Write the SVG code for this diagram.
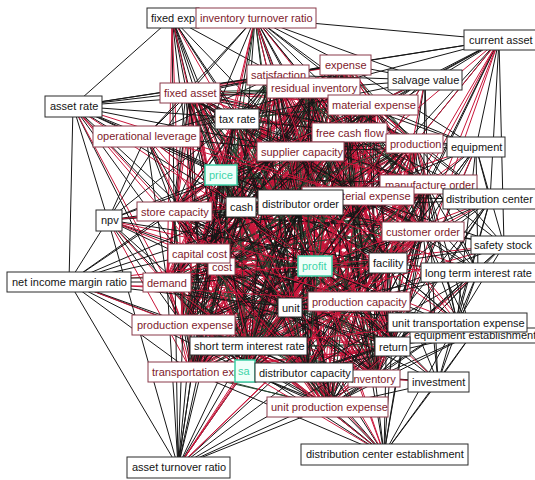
<svg xmlns="http://www.w3.org/2000/svg" xmlns:xlink="http://www.w3.org/1999/xlink" width="535" height="480" viewBox="0 0 535 480">
<style>
  .bg{fill:#fff}
  .e{fill:none;stroke-width:1;stroke-linejoin:round}
  .k{stroke:#161616}
  .r{stroke:#c8163a}
  .g{stroke:#27442f}
  .nd text{font-family:"Liberation Sans",Arial,Helvetica,sans-serif;font-size:11px}
  .b rect{fill:#fff;stroke:#2b2b2b;stroke-width:1}
  .b text{fill:#141414}
  .m rect{fill:#fff;stroke:#8a3a4a;stroke-width:1}
  .m text{fill:#7e1a2c}
  .t rect{fill:#effff9;stroke:#3ccfa5;stroke-width:1.5}
  .t text{fill:#3dd4a8}
</style>
<rect class="bg" x="0" y="0" width="535" height="480"/>

<!-- connectors: core mesh drawn as stride cycles over the 31 central concepts, then the outer fans -->
<g id="connectors">
  <g id="mesh-red">
  <path class="e r" d="M221 175L315 266L245 371L241 208L300 207L357 196L428 187L423 231L388 263L359 301L290 307L199 253L221 266L174 211L167 282L183 325L248 346L192 372L304 372L375 378L392 346L327 407L300 151L349 132L415 143L373 105L313 89L277 75L345 64L237 118L190 92Z"/>
  <path class="e r" d="M221 175L241 208L428 187L359 301L221 266L183 325L304 372L327 407L415 143L277 75L190 92L245 371L357 196L388 263L199 253L167 282L192 372L392 346L349 132L313 89L237 118L315 266L300 207L423 231L290 307L174 211L248 346L375 378L300 151L373 105L345 64Z"/>
  <path class="e r" d="M221 175L357 196L290 307L183 325L392 346L373 105L190 92L300 207L359 301L167 282L375 378L415 143L237 118L241 208L388 263L174 211L304 372L349 132L345 64L245 371L423 231L221 266L192 372L300 151L277 75L315 266L428 187L199 253L248 346L327 407L313 89Z"/>
  <path class="e r" d="M221 175L423 231L167 282L327 407L345 64L300 207L199 253L304 372L373 105L315 266L388 263L183 325L300 151L237 118L357 196L221 266L375 378L313 89L245 371L359 301L248 346L349 132L190 92L428 187L174 211L392 346L277 75L241 208L290 307L192 372L415 143Z"/>
  <path class="e r" d="M221 175L359 301L304 372L277 75L357 196L167 282L349 132L315 266L290 307L375 378L345 64L428 187L183 325L415 143L245 371L199 253L392 346L237 118L423 231L248 346L373 105L241 208L221 266L327 407L190 92L388 263L192 372L313 89L300 207L174 211L300 151Z"/>
  <path class="e r" d="M221 175L199 253L300 151L245 371L174 211L415 143L300 207L183 325L313 89L428 187L192 372L345 64L388 263L375 378L190 92L290 307L327 407L315 266L221 266L349 132L241 208L167 282L373 105L357 196L248 346L277 75L423 231L304 372L237 118L359 301L392 346Z"/>
  <path class="e r" d="M221 175L174 211L313 89L388 263L327 407L241 208L248 346L237 118L199 253L415 143L428 187L375 378L315 266L167 282L277 75L359 301L300 151L300 207L192 372L190 92L221 266L373 105L423 231L392 346L245 371L183 325L345 64L290 307L349 132L357 196L304 372Z"/>
  <path class="e r" d="M221 175L183 325L190 92L167 282L237 118L174 211L345 64L221 266L277 75L199 253L313 89L290 307L373 105L359 301L415 143L388 263L349 132L423 231L300 151L428 187L327 407L357 196L392 346L300 207L375 378L241 208L304 372L245 371L192 372L315 266L248 346Z"/>
  </g>
  <g id="mesh-dark">
  <path class="e k" d="M221 175L245 371L300 207L428 187L388 263L290 307L221 266L167 282L248 346L304 372L392 346L300 151L415 143L313 89L345 64L190 92L315 266L241 208L357 196L423 231L359 301L199 253L174 211L183 325L192 372L375 378L327 407L349 132L373 105L277 75L237 118Z"/>
  <path class="e g" d="M221 175L300 207L388 263L221 266L248 346L392 346L415 143L345 64L315 266L357 196L359 301L174 211L192 372L327 407L373 105L237 118L245 371L428 187L290 307L167 282L304 372L300 151L313 89L190 92L241 208L423 231L199 253L183 325L375 378L349 132L277 75Z"/>
  <path class="e k" d="M221 175L428 187L221 266L304 372L415 143L190 92L357 196L199 253L192 372L349 132L237 118L300 207L290 307L248 346L300 151L345 64L241 208L359 301L183 325L327 407L277 75L245 371L388 263L167 282L392 346L313 89L315 266L423 231L174 211L375 378L373 105Z"/>
  <path class="e k" d="M221 175L388 263L248 346L415 143L315 266L359 301L192 372L373 105L245 371L290 307L304 372L313 89L241 208L199 253L375 378L277 75L300 207L221 266L392 346L345 64L357 196L174 211L327 407L237 118L428 187L167 282L300 151L190 92L423 231L183 325L349 132Z"/>
  <path class="e g" d="M221 175L290 307L392 346L190 92L359 301L375 378L237 118L388 263L304 372L345 64L423 231L192 372L277 75L428 187L248 346L313 89L357 196L183 325L373 105L300 207L167 282L415 143L241 208L174 211L349 132L245 371L221 266L300 151L315 266L199 253L327 407Z"/>
  <path class="e k" d="M221 175L221 266L415 143L357 196L192 372L237 118L290 307L300 151L241 208L183 325L277 75L388 263L392 346L315 266L174 211L373 105L428 187L304 372L190 92L199 253L349 132L300 207L248 346L345 64L359 301L327 407L245 371L167 282L313 89L423 231L375 378Z"/>
  <path class="e k" d="M221 175L167 282L345 64L199 253L373 105L388 263L300 151L357 196L375 378L245 371L248 346L190 92L174 211L277 75L290 307L415 143L423 231L327 407L300 207L304 372L315 266L183 325L237 118L221 266L313 89L359 301L349 132L428 187L392 346L241 208L192 372Z"/>
  </g>
  <!-- second pass of the mesh, turned slightly about the middle so the strands fan out inside each box -->
  <use href="#mesh-red" xlink:href="#mesh-red" transform="rotate(1.6 305 245)"/>
  <use href="#mesh-dark" xlink:href="#mesh-dark" transform="rotate(-1.6 305 245)"/>

  <!-- fixed exp -->
  <path class="e k" d="M172 18L221 175M172 18L241 208M172 18L190 92M172 18L237 118M172 18L174 211M172 18L199 253M172 18L300 151M172 18L300 207M172 18L221 266M172 18L290 307M172 18L73 106M172 18L277 75"/>
  <path class="e r" d="M172 18L315 266M172 18L248 346M172 18L167 282M172 18L183 325"/>
  <!-- inventory turnover ratio -->
  <path class="e k" d="M255 18L277 75M255 18L345 64M255 18L313 89M255 18L373 105M255 18L349 132M255 18L300 151M255 18L237 118M255 18L190 92M255 18L300 207M255 18L357 196M255 18L415 143M255 18L425 80M255 18L499 40M255 18L241 208M255 18L388 263M255 18L428 187M255 18L146 136M255 18L174 211M255 18L290 307"/>
  <path class="e r" d="M255 18L221 175M255 18L315 266M255 18L359 301M255 18L199 253M255 18L423 231"/>
  <path class="e g" d="M255 18L221 266M255 18L304 372"/>
  <!-- current asset -->
  <path class="e k" d="M499 40L345 64M499 40L277 75M499 40L313 89M499 40L373 105M499 40L425 80M499 40L415 143M499 40L476 147M499 40L349 132M499 40L428 187M499 40L357 196M499 40L388 263M499 40L490 200M499 40L300 151M499 40L504 245"/>
  <path class="e r" d="M499 40L423 231M499 40L300 207M499 40L315 266M499 40L359 301M499 40L392 346M499 40L304 372"/>
  <!-- asset rate -->
  <path class="e k" d="M73 106L190 92M73 106L237 118M73 106L277 75M73 106L313 89M73 106L300 151M73 106L146 136M73 106L221 175M73 106L241 208M73 106L174 211M73 106L108 220M73 106L69 282M73 106L345 64M73 106L300 207M73 106L290 307M73 106L248 346M73 106L183 325"/>
  <path class="e r" d="M73 106L199 253M73 106L167 282M73 106L315 266M73 106L221 266M73 106L357 196"/>
  <!-- npv -->
  <path class="e k" d="M108 220L174 211M108 220L221 175M108 220L241 208M108 220L300 207M108 220L199 253M108 220L167 282M108 220L300 151M108 220L237 118M108 220L190 92M108 220L146 136M108 220L290 307M108 220L248 346M108 220L183 325M108 220L388 263M108 220L69 282"/>
  <path class="e r" d="M108 220L221 266M108 220L315 266M108 220L192 372M108 220L357 196M108 220L359 301M108 220L245 371"/>
  <!-- net income margin ratio -->
  <path class="e k" d="M69 282L167 282M69 282L199 253M69 282L174 211M69 282L221 175M69 282L241 208M69 282L290 307M69 282L183 325M69 282L248 346M69 282L192 372M69 282L178 467M69 282L300 207M69 282L245 371"/>
  <path class="e r" d="M69 282L221 266M69 282L315 266M69 282L359 301M69 282L304 372M69 286L167 286"/>
  <path class="e g" d="M69 278L167 278"/>
  <!-- asset turnover ratio -->
  <path class="e k" d="M178 467L183 325M178 467L248 346M178 467L192 372M178 467L167 282M178 467L221 266M178 467L290 307M178 467L199 253M178 467L241 208M178 467L221 175M178 467L359 301M178 467L375 378M178 467L327 407M178 467L304 372M178 467L392 346M178 467L174 211M178 467L300 207M178 467L108 220"/>
  <path class="e r" d="M178 467L245 371M178 467L315 266M178 467L388 263M178 467L357 196M178 467L423 231"/>
  <!-- distribution center establishment -->
  <path class="e k" d="M384 454L327 407M384 454L375 378M384 454L304 372M384 454L392 346M384 454L438 382M384 454L359 301M384 454L388 263M384 454L290 307M384 454L248 346M384 454L192 372M384 454L183 325M384 454L423 231M384 454L457 322M384 454L472 334M384 454L428 187M384 454L221 266"/>
  <path class="e r" d="M384 454L245 371M384 454L315 266M384 454L300 207M384 454L167 282M384 454L241 208M384 454L199 253"/>
  <!-- equipment -->
  <path class="e k" d="M476 147L415 143M476 147L373 105M476 147L349 132M476 147L428 187M476 147L423 231M476 147L357 196M476 147L388 263M476 147L490 200M476 147L504 245M476 147L359 301M476 147L392 346M476 147L457 322M476 147L345 64M476 147L313 89M476 147L300 151M476 147L478 272"/>
  <path class="e r" d="M476 147L300 207M476 147L315 266M476 147L375 378"/>
  <!-- distribution center -->
  <path class="e k" d="M490 200L428 187M490 200L423 231M490 200L357 196M490 200L388 263M490 200L415 143M490 200L359 301M490 200L392 346M490 200L457 322M490 200L375 378M490 200L300 207M490 200L349 132M490 200L373 105M490 200L327 407M490 200L438 382"/>
  <path class="e r" d="M490 200L315 266M490 200L290 307M490 200L300 151"/>
  <!-- safety stock -->
  <path class="e k" d="M504 245L423 231M504 245L388 263M504 245L428 187M504 245L359 301M504 245L392 346M504 245L375 378M504 245L457 322M504 245L357 196M504 245L415 143M504 245L300 207M504 245L327 407"/>
  <path class="e r" d="M504 245L315 266M504 245L290 307"/>
  <!-- long term interest rate -->
  <path class="e k" d="M478 272L388 263M478 272L359 301M478 272L423 231M478 272L392 346M478 272L375 378M478 272L428 187M478 272L357 196M478 272L290 307M478 272L457 322M478 272L438 382M478 272L415 143M478 272L349 132M478 272L304 372"/>
  <path class="e r" d="M478 272L315 266M478 272L300 207M478 272L327 407"/>
  <!-- equipment establishment -->
  <path class="e k" d="M472 334L392 346M472 334L375 378M472 334L359 301M472 334L388 263M472 334L423 231M472 334L438 382M472 334L327 407M472 334L428 187M472 334L315 266M472 334L304 372"/>
  <path class="e r" d="M472 334L290 307M472 334L357 196"/>
  <!-- unit transportation expense -->
  <path class="e k" d="M457 322L359 301M457 322L392 346M457 322L375 378M457 322L388 263M457 322L423 231M457 322L428 187M457 322L290 307M457 322L304 372M457 322L327 407M457 322L415 143"/>
  <path class="e r" d="M457 322L315 266M457 322L357 196M457 322L300 207M457 322L248 346"/>
  <!-- investment -->
  <path class="e k" d="M438 382L375 378M438 382L392 346M438 382L359 301M438 382L388 263M438 382L327 407M438 382L304 372M438 382L423 231M438 382L428 187M438 382L290 307"/>
  <path class="e r" d="M438 382L315 266M438 382L245 371"/>
  <!-- salvage value -->
  <path class="e k" d="M425 80L345 64M425 80L313 89M425 80L373 105M425 80L415 143M425 80L349 132M425 80L277 75M425 80L300 151M425 80L357 196M425 80L428 187M425 80L300 207M425 80L237 118M425 80L423 231"/>
  <path class="e r" d="M425 80L315 266M425 80L221 175M425 80L388 263"/>
  <!-- operational leverage -->
  <path class="e k" d="M146 136L190 92M146 136L237 118M146 136L221 175M146 136L241 208M146 136L174 211M146 136L199 253M146 136L300 151M146 136L300 207M146 136L221 266M146 136L277 75M146 136L313 89M146 136L167 282"/>
  <path class="e r" d="M146 136L315 266M146 136L290 307M146 136L248 346M146 136L357 196"/>
</g>

<!-- concept boxes -->
<g id="nodes">
  <g id="node-fixed-exp" class="nd b"><rect x="147" y="8" width="52" height="20"/><text x="151" y="22">fixed exp</text></g>
  <g id="node-inventory-turnover-ratio" class="nd m"><rect x="196" y="8" width="120" height="20"/><text x="200" y="22">inventory turnover ratio</text></g>
  <g id="node-current-asset" class="nd b"><rect x="464" y="30" width="72" height="20"/><text x="469" y="44">current asset</text></g>
  <g id="node-satisfaction" class="nd m"><rect x="247" y="65" width="62" height="20"/><text x="251" y="79">satisfaction</text></g>
  <g id="node-expense" class="nd m"><rect x="320" y="55" width="51" height="20"/><text x="325" y="69">expense</text></g>
  <g id="node-residual-inventory" class="nd m"><rect x="267" y="78" width="93" height="20"/><text x="271" y="92">residual inventory</text></g>
  <g id="node-salvage-value" class="nd b"><rect x="388" y="70" width="74" height="20"/><text x="392" y="84">salvage value</text></g>
  <g id="node-fixed-asset" class="nd m"><rect x="160" y="83" width="60" height="20"/><text x="164" y="97">fixed asset</text></g>
  <g id="node-material-expense" class="nd m"><rect x="328" y="95" width="90" height="20"/><text x="332" y="109">material expense</text></g>
  <g id="node-asset-rate" class="nd b"><rect x="45" y="96" width="57" height="21"/><text x="50" y="110">asset rate</text></g>
  <g id="node-tax-rate" class="nd b"><rect x="215" y="109" width="44" height="20"/><text x="219" y="123">tax rate</text></g>
  <g id="node-operational-leverage" class="nd m"><rect x="93" y="126" width="107" height="21"/><text x="97" y="140">operational leverage</text></g>
  <g id="node-free-cash-flow" class="nd m"><rect x="312" y="123" width="75" height="19"/><text x="316" y="137">free cash flow</text></g>
  <g id="node-production" class="nd m"><rect x="386" y="134" width="57" height="19"/><text x="390" y="148">production</text></g>
  <g id="node-equipment" class="nd b"><rect x="447" y="137" width="58" height="20"/><text x="451" y="151">equipment</text></g>
  <g id="node-supplier-capacity" class="nd m"><rect x="257" y="142" width="87" height="19"/><text x="261" y="156">supplier capacity</text></g>
  <g id="node-price" class="nd t"><rect x="205" y="165" width="32" height="20"/><text x="209" y="179">price</text></g>
  <g id="node-manufacture-order" class="nd m"><rect x="380" y="175" width="97" height="19"/><text x="385" y="189">manufacture order</text></g>
  <g id="node-unit-material-expense" class="nd m"><rect x="302" y="187" width="112" height="18"/><text x="306" y="200">unit material expense</text></g>
  <g id="node-distribution-center" class="nd b"><rect x="443" y="189" width="94" height="20"/><text x="446" y="203">distribution center</text></g>
  <g id="node-cash" class="nd b"><rect x="226" y="197" width="30" height="20"/><text x="230" y="211">cash</text></g>
  <g id="node-distributor-order" class="nd b"><rect x="258" y="190" width="85" height="25"/><text x="262" y="208">distributor order</text></g>
  <g id="node-store-capacity" class="nd m"><rect x="137" y="202" width="75" height="19"/><text x="141" y="216">store capacity</text></g>
  <g id="node-npv" class="nd b"><rect x="96" y="210" width="26" height="21"/><text x="101" y="224">npv</text></g>
  <g id="node-customer-order" class="nd m"><rect x="382" y="222" width="82" height="19"/><text x="386" y="236">customer order</text></g>
  <g id="node-safety-stock" class="nd b"><rect x="471" y="236" width="67" height="18"/><text x="474" y="249">safety stock</text></g>
  <g id="node-cost" class="nd m"><rect x="208" y="258" width="27" height="17"/><text x="212" y="271">cost</text></g>
  <g id="node-capital-cost" class="nd m"><rect x="168" y="244" width="62" height="19"/><text x="172" y="258">capital cost</text></g>
  <g id="node-profit" class="nd t"><rect x="298" y="256" width="34" height="20"/><text x="302" y="270">profit</text></g>
  <g id="node-facility" class="nd b"><rect x="369" y="253" width="38" height="20"/><text x="373" y="267">facility</text></g>
  <g id="node-long-term-interest-rate" class="nd b"><rect x="421" y="263" width="116" height="19"/><text x="425" y="277">long term interest rate</text></g>
  <g id="node-net-income-margin-ratio" class="nd b"><rect x="7" y="272" width="124" height="20"/><text x="12" y="286">net income margin ratio</text></g>
  <g id="node-demand" class="nd m"><rect x="143" y="273" width="48" height="19"/><text x="147" y="287">demand</text></g>
  <g id="node-unit" class="nd b"><rect x="278" y="298" width="24" height="19"/><text x="282" y="312">unit</text></g>
  <g id="node-production-capacity" class="nd m"><rect x="308" y="292" width="102" height="19"/><text x="312" y="306">production capacity</text></g>
  <g id="node-equipment-establishment" class="nd b"><rect x="410" y="328" width="130" height="15"/><text x="414" y="339">equipment establishment</text></g>
  <g id="node-unit-transportation-expense" class="nd b"><rect x="388" y="313" width="139" height="19"/><text x="392" y="327">unit transportation expense</text></g>
  <g id="node-production-expense" class="nd m"><rect x="132" y="315" width="103" height="20"/><text x="137" y="329">production expense</text></g>
  <g id="node-short-term-interest-rate" class="nd b"><rect x="190" y="337" width="117" height="18"/><text x="194" y="350">short term interest rate</text></g>
  <g id="node-return" class="nd b"><rect x="375" y="337" width="35" height="19"/><text x="379" y="351">return</text></g>
  <g id="node-transportation-expense" class="nd m"><rect x="148" y="362" width="108" height="20"/><text x="152" y="376">transportation expense</text></g>
  <g id="node-sa" class="nd t"><rect x="235" y="360" width="20" height="22"/><text x="238" y="375">sa</text></g>
  <g id="node-inventory" class="nd m"><rect x="348" y="370" width="52" height="17"/><text x="351" y="383">inventory</text></g>
  <g id="node-distributor-capacity" class="nd b"><rect x="255" y="363" width="98" height="19"/><text x="259" y="377">distributor capacity</text></g>
  <g id="node-investment" class="nd b"><rect x="408" y="372" width="61" height="20"/><text x="412" y="386">investment</text></g>
  <g id="node-unit-production-expense" class="nd m"><rect x="267" y="397" width="121" height="20"/><text x="271" y="411">unit production expense</text></g>
  <g id="node-distribution-center-establishment" class="nd b"><rect x="301" y="444" width="167" height="21"/><text x="306" y="458">distribution center establishment</text></g>
  <g id="node-asset-turnover-ratio" class="nd b"><rect x="127" y="457" width="103" height="21"/><text x="132" y="471">asset turnover ratio</text></g>
</g>
</svg>
